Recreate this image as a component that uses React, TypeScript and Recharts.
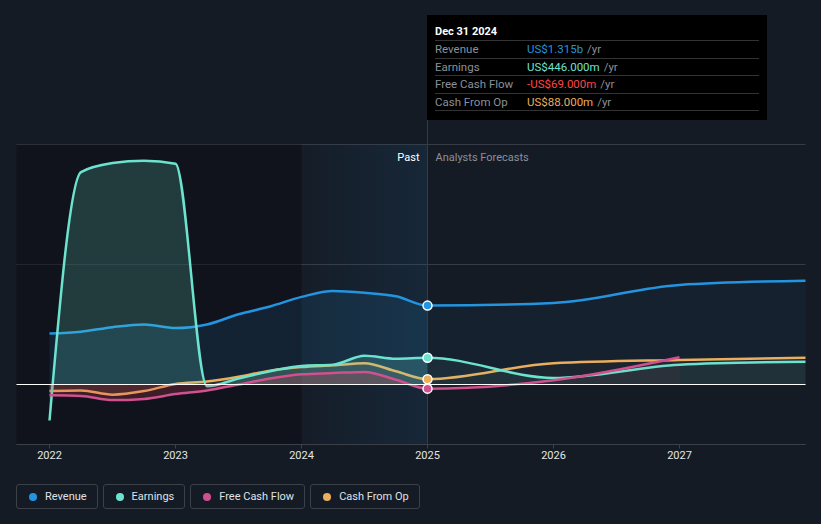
import React from 'react';
import {
  ComposedChart,
  Area,
  XAxis,
  YAxis,
  CartesianGrid,
  ReferenceLine,
  ReferenceArea,
} from 'recharts';

// time in fractional years; quarterly past, yearly analyst forecasts
const years = [
  2022, 2022.25, 2022.5, 2022.75, 2023, 2023.25, 2023.5, 2023.75, 2024, 2024.25, 2024.5, 2024.75, 2025,
  2026, 2027, 2028,
];
// values in US$ billions
const revenue = [0.85, 0.88, 0.955, 1.0, 0.94, 1.0, 1.17, 1.3, 1.46, 1.56, 1.53, 1.47, 1.315, 1.36, 1.66, 1.73];
const earnings = [-0.6, 3.54, 3.69, 3.73, 3.68, -0.03, 0.1, 0.22, 0.31, 0.33, 0.48, 0.43, 0.446, 0.11, 0.33, 0.38];
const freeCashFlow = [-0.18, -0.19, -0.26, -0.24, -0.16, -0.1, 0.0, 0.1, 0.17, 0.19, 0.21, 0.08, -0.069, 0.07, 0.455, null];
const cashFromOp = [-0.11, -0.1, -0.17, -0.11, 0.01, 0.05, 0.13, 0.23, 0.29, 0.32, 0.355, 0.22, 0.088, 0.355, 0.41, 0.445];

const xTicks = [2022, 2023, 2024, 2025, 2026, 2027];
const yTicks = [-1, 0, 2, 4];
const yLabels: Record<number, string> = { [-1]: '-US$1b', 0: 'US$0', 4: 'US$4b' };

const NOW = 2025;

const C_REV = '#2394df';
const C_EARN = '#6ce3cf';
const C_FCF = '#d1508f';
const C_CFO = '#eaae5c';

const data = years.map((t, i) => ({
  t,
  revenue: revenue[i],
  earnings: earnings[i],
  fcf: freeCashFlow[i],
  cfo: cashFromOp[i],
}));

const tooltipRows = [
  { label: 'Revenue', value: 'US$1.315b', color: C_REV },
  { label: 'Earnings', value: 'US$446.000m', color: C_EARN },
  { label: 'Free Cash Flow', value: '-US$69.000m', color: '#ff4646' },
  { label: 'Cash From Op', value: 'US$88.000m', color: C_CFO },
];

const legendItems = [
  { label: 'Revenue', color: C_REV },
  { label: 'Earnings', color: C_EARN },
  { label: 'Free Cash Flow', color: C_FCF },
  { label: 'Cash From Op', color: C_CFO },
];

function nowDot(color: string) {
  return (props: any) => {
    const { cx, cy, payload, index } = props;
    if (payload.t !== NOW || cy == null) return <g key={`d-${index}`} />;
    return <circle key={`d-${index}`} cx={cx} cy={cy} r={4.5} fill={color} stroke="#ffffff" strokeWidth={1.5} />;
  };
}

function YTick(props: any) {
  const { x, y, payload } = props;
  const label = yLabels[payload.value];
  if (!label) return null;
  return (
    <text x={x + 9.5} y={y - 8} fill="#e4e6ea" fontSize={11} textAnchor="start">
      {label}
    </text>
  );
}

function PastLabel(props: any) {
  const { viewBox } = props;
  const x = viewBox.x;
  const y = viewBox.y + 16;
  return (
    <g>
      <text x={x - 8} y={y} fill="#ffffff" fontSize={11} textAnchor="end">
        Past
      </text>
      <text x={x + 8} y={y} fill="#8b9099" fontSize={11} textAnchor="start">
        Analysts Forecasts
      </text>
    </g>
  );
}

function hGrad(id: string, color: string, split: number, past: number, future: number) {
  return (
    <linearGradient id={id} x1="0" y1="0" x2="1" y2="0">
      <stop offset={0} stopColor={color} stopOpacity={past} />
      <stop offset={split} stopColor={color} stopOpacity={past} />
      <stop offset={split} stopColor={color} stopOpacity={future} />
      <stop offset={1} stopColor={color} stopOpacity={future} />
    </linearGradient>
  );
}

export default function App() {
  return (
    <div
      style={{
        position: 'absolute',
        left: 0,
        top: 0,
        width: 821,
        height: 524,
        background: '#151b25',
        overflow: 'hidden',
        fontFamily: 'Roboto, sans-serif',
      }}
    >
      {/* half-pixel margins keep 1px rules crisp */}
      <ComposedChart
        width={821}
        height={470}
        data={data}
        margin={{ top: 144.5, right: 15.5, bottom: 0, left: 16.5 }}
        style={{ fontFamily: 'Roboto, sans-serif' }}
      >
        <defs>
          <linearGradient id="band" x1="0" y1="0" x2="1" y2="0">
            <stop offset={0} stopColor="#1e5c8a" stopOpacity={0.05} />
            <stop offset={1} stopColor="#1e5c8a" stopOpacity={0.38} />
          </linearGradient>
          {hGrad('gRev', C_REV, 0.5, 0.2, 0.08)}
          {hGrad('gEarn', C_EARN, 0.5, 0.32, 0.1)}
          {hGrad('gCfo', C_CFO, 0.5, 0.15, 0.05)}
          {hGrad('gFcf', '#d8405a', 0.6, 0.38, 0.08)}
        </defs>
        <ReferenceArea x1={2021.738} x2={2024} fill="#0a0c10" fillOpacity={0.45} stroke="none" zIndex={-90} />
        <ReferenceArea x1={2024} x2={NOW} fill="url(#band)" stroke="none" zIndex={-90} />
        <CartesianGrid horizontal vertical={false} stroke="#363b45" />
        <XAxis
          dataKey="t"
          type="number"
          domain={[2021.738, 2028]}
          ticks={xTicks}
          tickFormatter={(v: number) => String(v)}
          height={25.5}
          axisLine={{ stroke: '#3b4049' }}
          tickLine={{ stroke: '#3b4049' }}
          tickSize={4}
          tickMargin={3}
          tick={{ fill: '#e4e6ea', fontSize: 11 }}
        />
        <YAxis
          type="number"
          domain={[-1, 4]}
          ticks={yTicks}
          width={0}
          axisLine={false}
          tickLine={false}
          tickSize={0}
          tickMargin={0}
          tick={<YTick />}
        />
        <Area
          dataKey="revenue"
          type="monotone"
          stroke={C_REV}
          strokeWidth={2.5}
          fill="url(#gRev)"
          dot={nowDot(C_REV)}
          activeDot={false}
          isAnimationActive={false}
        />
        <Area
          dataKey="cfo"
          type="monotone"
          stroke={C_CFO}
          strokeWidth={2.5}
          fill="url(#gCfo)"
          dot={nowDot(C_CFO)}
          activeDot={false}
          isAnimationActive={false}
        />
        <Area
          dataKey="earnings"
          type="monotone"
          stroke={C_EARN}
          strokeWidth={2.5}
          fill="url(#gEarn)"
          dot={nowDot(C_EARN)}
          activeDot={false}
          isAnimationActive={false}
        />
        <Area
          dataKey="fcf"
          type="monotone"
          stroke={C_FCF}
          strokeWidth={2.5}
          fill="url(#gFcf)"
          dot={nowDot(C_FCF)}
          activeDot={false}
          isAnimationActive={false}
        />
        <ReferenceLine y={0} stroke="#ffffff" strokeWidth={1} zIndex={150} />
        <ReferenceLine x={NOW} stroke="#22405a" strokeWidth={1} label={<PastLabel />} />
      </ComposedChart>

      {/* static hover card at the "now" point */}
      <div style={{ position: 'absolute', left: 427, top: 120, width: 1, height: 24, background: '#22405a' }} />
      <div
        style={{
          position: 'absolute',
          left: 427,
          top: 15,
          width: 340,
          height: 105,
          background: '#000000',
          boxSizing: 'border-box',
          padding: '8px 8px 0 8px',
          fontSize: 11,
        }}
      >
        <div style={{ color: '#ffffff', fontWeight: 700, height: 17, lineHeight: '17px', borderBottom: '1px solid #333' }}>
          Dec 31 2024
        </div>
        {tooltipRows.map((r) => (
          <div
            key={r.label}
            style={{ display: 'flex', height: 16.5, lineHeight: '17px', borderBottom: '1px solid #333', fontSize: 11.5 }}
          >
            <span style={{ width: 92, color: '#8b9099' }}>{r.label}</span>
            <span style={{ color: r.color }}>{r.value}</span>
            <span style={{ color: '#8b9099', marginLeft: 4 }}>/yr</span>
          </div>
        ))}
      </div>

      <div style={{ position: 'absolute', left: 16, top: 484, display: 'flex', gap: 5 }}>
        {legendItems.map((it) => (
          <div
            key={it.label}
            style={{
              height: 25,
              boxSizing: 'border-box',
              border: '1px solid #3b4049',
              borderRadius: 3,
              display: 'flex',
              alignItems: 'center',
              padding: '0 10px 0 12px',
              color: '#dfe2e6',
              fontSize: 11,
            }}
          >
            <span
              style={{ width: 8, height: 8, borderRadius: 4, background: it.color, marginRight: 8, display: 'inline-block' }}
            />
            {it.label}
          </div>
        ))}
      </div>
    </div>
  );
}
